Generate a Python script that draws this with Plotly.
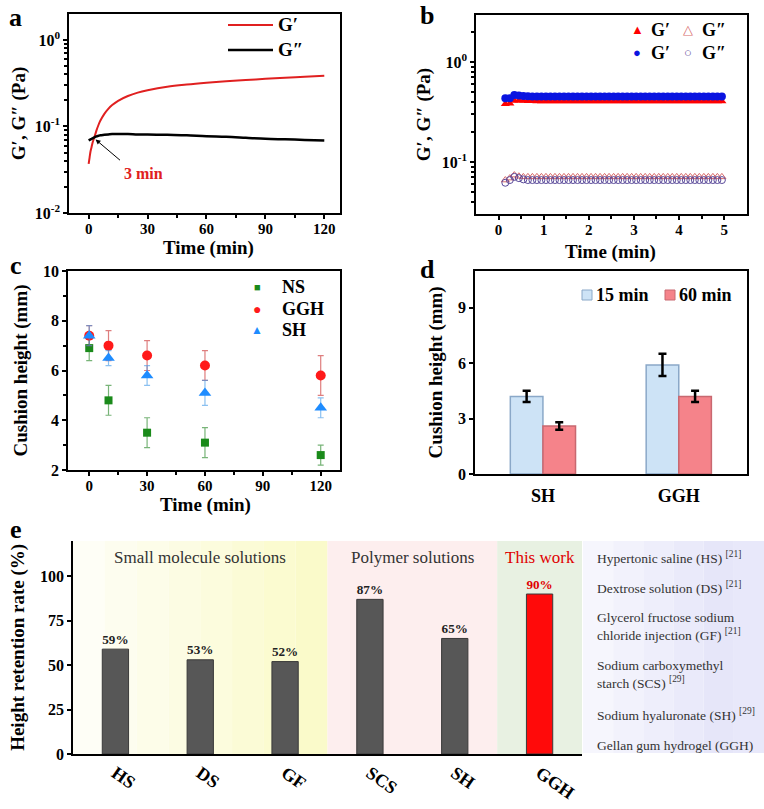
import plotly.graph_objects as go

FONT = "Liberation Serif"
W, H = 764, 809

# ---------------- data ----------------
# Panel a: time sweep
time_a = [0, 0.5, 1, 1.5, 2, 3, 4, 5, 6, 8, 10, 12, 15, 20, 25, 30, 40, 50, 60, 70, 80, 90, 100, 110, 120]
gprime_a = [0.037, 0.044, 0.052, 0.058, 0.065, 0.076, 0.090, 0.104, 0.117, 0.140, 0.160, 0.177, 0.198,
            0.225, 0.246, 0.262, 0.288, 0.306, 0.321, 0.334, 0.345, 0.355, 0.366, 0.376, 0.386]
gdouble_a = [0.069, 0.070, 0.071, 0.072, 0.073, 0.075, 0.077, 0.078, 0.079, 0.080, 0.081, 0.082, 0.082,
             0.082, 0.081, 0.081, 0.080, 0.079, 0.077, 0.076, 0.074, 0.072, 0.071, 0.070, 0.069]

# Panel b: oscillatory time sweep (two samples)
time_b = [0.15, 0.25, 0.35, 0.45, 0.55, 0.65, 0.75, 0.85, 0.95, 1.05, 1.15, 1.25, 1.35, 1.45, 1.55, 1.65,
          1.75, 1.85, 1.95, 2.05, 2.15, 2.25, 2.35, 2.45, 2.55, 2.65, 2.75, 2.85, 2.95, 3.05, 3.15, 3.25,
          3.35, 3.45, 3.55, 3.65, 3.75, 3.85, 3.95, 4.05, 4.15, 4.25, 4.35, 4.45, 4.55, 4.65, 4.75, 4.85, 4.95]
gprime_red = [0.380, 0.385, 0.410, 0.412, 0.410, 0.408, 0.407, 0.406, 0.405, 0.405, 0.405, 0.405, 0.405,
              0.405, 0.405, 0.405, 0.405, 0.405, 0.405, 0.405, 0.405, 0.405, 0.405, 0.405, 0.405, 0.405,
              0.405, 0.405, 0.405, 0.405, 0.405, 0.405, 0.405, 0.405, 0.405, 0.405, 0.405, 0.405, 0.405,
              0.405, 0.405, 0.405, 0.405, 0.405, 0.405, 0.405, 0.405, 0.405, 0.405]
gdouble_red = [0.066, 0.069, 0.074, 0.072, 0.071, 0.071, 0.071, 0.071, 0.071, 0.071, 0.071, 0.071, 0.071,
               0.071, 0.071, 0.071, 0.071, 0.071, 0.071, 0.071, 0.071, 0.071, 0.071, 0.071, 0.071, 0.071,
               0.071, 0.071, 0.071, 0.071, 0.071, 0.071, 0.071, 0.071, 0.071, 0.071, 0.071, 0.071, 0.071,
               0.071, 0.071, 0.071, 0.071, 0.071, 0.071, 0.071, 0.071, 0.071, 0.071]
gprime_blue = [0.435, 0.435, 0.468, 0.462, 0.458, 0.455, 0.453, 0.452, 0.452, 0.452, 0.452, 0.452, 0.452,
               0.452, 0.452, 0.452, 0.452, 0.452, 0.452, 0.452, 0.452, 0.452, 0.452, 0.452, 0.452, 0.452,
               0.452, 0.452, 0.452, 0.452, 0.452, 0.452, 0.452, 0.452, 0.452, 0.452, 0.452, 0.452, 0.452,
               0.452, 0.452, 0.452, 0.452, 0.452, 0.452, 0.452, 0.452, 0.452, 0.452]
gdouble_blue = [0.062, 0.066, 0.071, 0.069, 0.067, 0.066, 0.066, 0.066, 0.066, 0.066, 0.066, 0.066, 0.066,
                0.066, 0.066, 0.066, 0.066, 0.066, 0.066, 0.066, 0.066, 0.066, 0.066, 0.066, 0.066, 0.066,
                0.066, 0.066, 0.066, 0.066, 0.066, 0.066, 0.066, 0.066, 0.066, 0.066, 0.066, 0.066, 0.066,
                0.066, 0.066, 0.066, 0.066, 0.066, 0.066, 0.066, 0.066, 0.066, 0.066]

# Panel c: cushion height vs time
time_c = [0, 10, 30, 60, 120]
ns_h = [6.9, 4.8, 3.5, 3.1, 2.6]
ns_err = [0.5, 0.6, 0.6, 0.6, 0.4]
ggh_h = [7.4, 7.0, 6.6, 6.2, 5.8]
ggh_err = [0.4, 0.6, 0.6, 0.6, 0.8]
sh_h = [7.4, 6.5, 5.8, 5.1, 4.5]
sh_err = [0.4, 0.3, 0.4, 0.5, 0.4]

# Panel d: cushion height at 15 / 60 min
groups_d = ["SH", "GGH"]
h15 = [4.2, 5.9]
h15_err = [0.3, 0.6]
h60 = [2.6, 4.2]
h60_err = [0.2, 0.3]

# Panel e: height retention rate
cats_e = ["HS", "DS", "GF", "SCS", "SH", "GGH"]
retention = [59, 53, 52, 87, 65, 90]
retention_labels = ["59%", "53%", "52%", "87%", "65%", "90%"]
group_names = ["Small molecule solutions", "Polymer solutions", "This work"]
abbrev_lines = ["Hypertonic saline (HS) <sup>[21]</sup>",
                "Dextrose solution (DS) <sup>[21]</sup>",
                "Glycerol fructose sodium<br>chloride injection (GF) <sup>[21]</sup>",
                "Sodium carboxymethyl<br>starch (SCS) <sup>[29]</sup>",
                "Sodium hyaluronate (SH) <sup>[29]</sup>",
                "Gellan gum hydrogel (GGH)"]

# ---------------- helpers ----------------
def px(x):
    return x / W

def py(y):
    return 1 - y / H

def bf(size, color="black"):
    return dict(family=FONT, size=size, color=color, weight="bold")

def rf(size, color="black"):
    return dict(family=FONT, size=size, color=color)

fig = go.Figure()

# ---------------- panel a ----------------
fig.add_trace(go.Scatter(x=time_a, y=gprime_a, mode="lines", line=dict(color="#e02020", width=2, shape="spline"),
                         xaxis="x", yaxis="y", showlegend=False))
fig.add_trace(go.Scatter(x=time_a, y=gdouble_a, mode="lines", line=dict(color="black", width=2.5, shape="spline"),
                         xaxis="x", yaxis="y", showlegend=False))

# ---------------- panel b ----------------
fig.add_trace(go.Scatter(x=time_b, y=gdouble_red, mode="markers", xaxis="x2", yaxis="y2", showlegend=False,
                         marker=dict(symbol="triangle-up-open", size=7, color="#d86a6a", line=dict(width=1))))
fig.add_trace(go.Scatter(x=time_b, y=gdouble_blue, mode="markers", xaxis="x2", yaxis="y2", showlegend=False,
                         marker=dict(symbol="circle-open", size=7, color="#5a4a9a", line=dict(width=1))))
fig.add_trace(go.Scatter(x=time_b, y=gprime_red, mode="markers", xaxis="x2", yaxis="y2", showlegend=False,
                         marker=dict(symbol="triangle-up", size=8, color="#ff0000")))
fig.add_trace(go.Scatter(x=time_b, y=gprime_blue, mode="markers", xaxis="x2", yaxis="y2", showlegend=False,
                         marker=dict(symbol="circle", size=8, color="#0a14e0")))

# ---------------- panel c ----------------
fig.add_trace(go.Scatter(x=time_c, y=ns_h, mode="markers", xaxis="x3", yaxis="y3", showlegend=False,
                         error_y=dict(type="data", array=ns_err, color="rgba(30,130,30,0.6)", thickness=1.2, width=3),
                         marker=dict(symbol="square", size=8, color="#1a8a1a")))
fig.add_trace(go.Scatter(x=time_c, y=ggh_h, mode="markers", xaxis="x3", yaxis="y3", showlegend=False,
                         error_y=dict(type="data", array=ggh_err, color="rgba(200,40,40,0.6)", thickness=1.2, width=3),
                         marker=dict(symbol="circle", size=10, color="#ff1a1a")))
fig.add_trace(go.Scatter(x=time_c, y=sh_h, mode="markers", xaxis="x3", yaxis="y3", showlegend=False,
                         error_y=dict(type="data", array=sh_err, color="rgba(60,150,230,0.6)", thickness=1.2, width=3),
                         marker=dict(symbol="triangle-up", size=11, color="#1e8cff")))

# ---------------- panel d ----------------
fig.add_trace(go.Bar(x=groups_d, y=h15, xaxis="x4", yaxis="y4", showlegend=False,
                     marker=dict(color="#cde3f6", line=dict(color="#8aa8c8", width=1.5)),
                     error_y=dict(type="data", array=h15_err, color="black", thickness=2.5, width=4)))
fig.add_trace(go.Bar(x=groups_d, y=h60, xaxis="x4", yaxis="y4", showlegend=False,
                     marker=dict(color="#f5838a", line=dict(color="#c86870", width=1.5)),
                     error_y=dict(type="data", array=h60_err, color="black", thickness=2.5, width=4)))

# ---------------- panel e ----------------
fig.add_trace(go.Bar(x=cats_e, y=retention, xaxis="x5", yaxis="y5", showlegend=False,
                     marker=dict(color=["#575757"] * 5 + ["#ff0a0a"], line=dict(color="#3a3a3a", width=1)),
                     text=retention_labels, textposition="outside", cliponaxis=False,
                     textfont=dict(family=FONT, size=16, weight="bold",
                                   color=["#222222"] * 5 + ["#e00000"])))

# ---------------- axes ----------------
axis_common = dict(showline=True, linecolor="black", linewidth=1.5, ticks="outside", ticklen=4, tickwidth=1.5,
                   tickcolor="black", showgrid=False, zeroline=False, tickfont=bf(16), automargin=False)
xt_font = bf(15)

log_minor_vals = [0.002, 0.003, 0.004, 0.005, 0.006, 0.007, 0.008, 0.009,
                  0.02, 0.03, 0.04, 0.05, 0.06, 0.07, 0.08, 0.09,
                  0.2, 0.3, 0.4, 0.5, 0.6, 0.7, 0.8, 0.9, 2, 3, 4, 5, 6, 7, 8, 9]

layout = dict(
    template="none",
    width=W, height=H, margin=dict(l=0, r=0, t=0, b=0, autoexpand=False),
    paper_bgcolor="white", plot_bgcolor="rgba(0,0,0,0)",
    font=rf(14), bargroupgap=0, showlegend=False,
)

# a
layout["xaxis"] = dict(axis_common, domain=[px(69), px(340)], anchor="y", mirror=True, range=[-10, 128],
                       tickvals=[0, 30, 60, 90, 120], tickfont=xt_font, ticklabelstandoff=-3,
                       minor=dict(tickvals=[15, 45, 75, 105], ticks="outside", ticklen=3, tickcolor="black"))
layout["yaxis"] = dict(axis_common, domain=[py(213), py(14)], anchor="x", mirror=True, type="log",
                       range=[-2, 0.3], tickvals=[0.01, 0.1, 1],
                       ticktext=["10<sup>-2</sup>", "10<sup>-1</sup>", "10<sup>0</sup>"],
                       minor=dict(tickvals=log_minor_vals, ticks="outside", ticklen=3, tickcolor="black"),
                       title=dict(text="G′, G″ (Pa)", font=bf(19), standoff=4))
# b
layout["xaxis2"] = dict(axis_common, domain=[px(476), px(746.7)], anchor="y2", mirror=True, range=[-0.5, 5.5],
                        tickvals=[0, 1, 2, 3, 4, 5], tickfont=xt_font, ticklabelstandoff=-3,
                        minor=dict(tickvals=[0.5, 1.5, 2.5, 3.5, 4.5], ticks="outside", ticklen=3, tickcolor="black"))
layout["yaxis2"] = dict(axis_common, domain=[py(214), py(15)], anchor="x2", mirror=True, type="log",
                        range=[-1.52, 0.47], tickvals=[0.1, 1],
                        ticktext=["10<sup>-1</sup>", "10<sup>0</sup>"],
                        minor=dict(tickvals=log_minor_vals, ticks="outside", ticklen=3, tickcolor="black"),
                        title=dict(text="G′, G″ (Pa)", font=bf(19), standoff=6))
# c
layout["xaxis3"] = dict(axis_common, domain=[px(68), px(340)], anchor="y3", mirror=True, range=[-11, 130],
                        tickvals=[0, 30, 60, 90, 120], tickfont=xt_font, ticklabelstandoff=-3,
                        minor=dict(tickvals=[15, 45, 75, 105], ticks="outside", ticklen=3, tickcolor="black"))
layout["yaxis3"] = dict(axis_common, domain=[py(470), py(271)], anchor="x3", mirror=True, range=[2, 10],
                        tickvals=[2, 4, 6, 8, 10],
                        minor=dict(tickvals=[3, 5, 7, 9], ticks="outside", ticklen=3, tickcolor="black"),
                        title=dict(text="Cushion height (mm)", font=bf(19), standoff=10))
# d
layout["xaxis4"] = dict(axis_common, domain=[px(475), px(746.7)], anchor="y4", mirror=True, range=[-0.5, 1.5],
                        ticks="", type="category", tickfont=bf(18), ticklabelstandoff=5)
layout["yaxis4"] = dict(axis_common, domain=[py(474), py(270.7)], anchor="x4", mirror=True, range=[0, 11],
                        tickvals=[0, 3, 6, 9],
                        title=dict(text="Cushion height (mm)", font=bf(19), standoff=10))
# e
layout["xaxis5"] = dict(axis_common, domain=[px(73), px(582)], anchor="y5", range=[-0.5, 5.5],
                        ticks="", type="category", tickangle=35, tickfont=bf(18))
layout["yaxis5"] = dict(axis_common, domain=[py(754), py(540.7)], anchor="x5", range=[0, 120],
                        tickvals=[0, 25, 50, 75, 100],
                        title=dict(text="Height retention rate (%)", font=bf(19), standoff=10))
layout["barmode"] = "group"
layout["bargap"] = 0.52

fig.update_layout(**layout)
fig.update_traces(selector=dict(xaxis="x5"), width=0.31)

shapes = []
annotations = []

# x-axis titles placed as text under panels a, b, c
for tx, ty in [(208, 248), (610, 252), (206, 505)]:
    annotations.append(dict(xref="paper", yref="paper", x=px(tx), y=py(ty), text="Time (min)", showarrow=False,
                            font=bf(19), xanchor="center", yanchor="middle"))

# ---------------- panel e backgrounds ----------------
yellow_steps = ["#fefef6", "#fdfdef", "#fdfde9", "#fcfce3", "#fcfcdd", "#fbfbd6", "#fbfbd0", "#fafaca"]
n = len(yellow_steps)
for i, c in enumerate(yellow_steps):
    x0 = -0.5 + 3 * i / n
    x1 = -0.5 + 3 * (i + 1) / n
    shapes.append(dict(type="rect", xref="x5", yref="y5", x0=x0, x1=x1, y0=0, y1=120,
                       fillcolor=c, line=dict(width=0), layer="below"))
shapes.append(dict(type="rect", xref="x5", yref="y5", x0=2.5, x1=4.5, y0=0, y1=120,
                   fillcolor="#fdeeee", line=dict(width=0), layer="below"))
shapes.append(dict(type="rect", xref="x5", yref="y5", x0=4.5, x1=5.5, y0=0, y1=120,
                   fillcolor="#e8f1e2", line=dict(width=0), layer="below"))
# abbreviation box
lav_steps = ["#f6f6fd", "#f2f2fc", "#eeeefb", "#eaeafa", "#e6e6f9", "#e8e8fa"]
bx0, bx1 = 583, 764
for i, c in enumerate(lav_steps):
    shapes.append(dict(type="rect", xref="paper", yref="paper",
                       x0=px(bx0 + (bx1 - bx0) * i / len(lav_steps)),
                       x1=px(bx0 + (bx1 - bx0) * (i + 1) / len(lav_steps)),
                       y0=py(753), y1=py(541), fillcolor=c, line=dict(width=0), layer="below"))

group_x = [1.0, 3.5, 5.0]
group_col = ["#333333", "#333333", "#e00000"]
for gx, gname, gc in zip(group_x, group_names, group_col):
    annotations.append(dict(xref="x5", yref="paper", x=gx, y=py(557), text=gname, showarrow=False,
                            font=rf(17, gc), xanchor="center", yanchor="middle"))

abbrev_y = [557, 587, 626.5, 674, 714, 745]
for ty, txt in zip(abbrev_y, abbrev_lines):
    annotations.append(dict(xref="paper", yref="paper", x=px(595), y=py(ty), text=txt, showarrow=False,
                            font=rf(13.5, "#333333"), xanchor="left", yanchor="middle", align="left"))

# ---------------- panel a legend & annotation ----------------
shapes.append(dict(type="line", xref="paper", yref="paper", x0=px(228), x1=px(273), y0=py(25), y1=py(25),
                   line=dict(color="#e02020", width=2)))
shapes.append(dict(type="line", xref="paper", yref="paper", x0=px(228), x1=px(273), y0=py(50), y1=py(50),
                   line=dict(color="black", width=2.5)))
annotations.append(dict(xref="paper", yref="paper", x=px(276), y=py(25), text="G′", showarrow=False,
                        font=bf(19), xanchor="left", yanchor="middle"))
annotations.append(dict(xref="paper", yref="paper", x=px(276), y=py(50), text="G″", showarrow=False,
                        font=bf(19), xanchor="left", yanchor="middle"))
annotations.append(dict(xref="x", yref="y", x=3.5, y=-1.15, text="", showarrow=True, arrowhead=2,
                        arrowsize=1, arrowwidth=1, arrowcolor="black", ax=26, ay=22))
annotations.append(dict(xref="paper", yref="paper", x=px(143), y=py(173), text="3 min", showarrow=False,
                        font=bf(16, "#e02020"), xanchor="center", yanchor="middle"))

# ---------------- panel b legend ----------------
leg_b = [(637, 30, "▲", "#ff0000", "G′"), (688, 30, "△", "#d86a6a", "G″"),
         (637, 53, "●", "#0a14e0", "G′"), (688, 53, "○", "#5a4a9a", "G″")]
for lx, ly, sym, col, lab in leg_b:
    annotations.append(dict(xref="paper", yref="paper", x=px(lx), y=py(ly), text=sym, showarrow=False,
                            font=rf(13, col), xanchor="center", yanchor="middle"))
    annotations.append(dict(xref="paper", yref="paper", x=px(lx + 12), y=py(ly), text=lab, showarrow=False,
                            font=bf(18), xanchor="left", yanchor="middle"))

# ---------------- panel c legend ----------------
leg_c = [(287, "■", "#1a8a1a", "NS", 11), (309, "●", "#ff1a1a", "GGH", 14), (330, "▲", "#1e8cff", "SH", 12)]
for ly, sym, col, lab, fs in leg_c:
    annotations.append(dict(xref="paper", yref="paper", x=px(257), y=py(ly), text=sym, showarrow=False,
                            font=rf(fs, col), xanchor="center", yanchor="middle"))
    annotations.append(dict(xref="paper", yref="paper", x=px(280), y=py(ly), text=lab, showarrow=False,
                            font=bf(18), xanchor="left", yanchor="middle"))

# ---------------- panel d legend ----------------
for lx, col, lcol, lab in [(587, "#cde3f6", "#8aa8c8", "15 min"), (670, "#f5838a", "#c86870", "60 min")]:
    shapes.append(dict(type="rect", xref="paper", yref="paper", x0=px(lx - 5), x1=px(lx + 5),
                       y0=py(300), y1=py(290), fillcolor=col, line=dict(color=lcol, width=1)))
    annotations.append(dict(xref="paper", yref="paper", x=px(lx + 7), y=py(295), text=lab, showarrow=False,
                            font=bf(18), xanchor="left", yanchor="middle"))

# ---------------- panel letters ----------------
for lx, ly, let in [(7, 17, "a"), (418, 16, "b"), (8, 265, "c"), (418, 269, "d"), (8, 529, "e")]:
    annotations.append(dict(xref="paper", yref="paper", x=px(lx), y=py(ly), text=let, showarrow=False,
                            font=bf(26), xanchor="left", yanchor="middle"))

fig.update_layout(shapes=shapes, annotations=annotations)
fig.write_html("out.html", config={"displayModeBar": False},
               post_script="document.body.style.margin='0';document.body.style.padding='0';"
                           "document.body.style.overflow='hidden';")
